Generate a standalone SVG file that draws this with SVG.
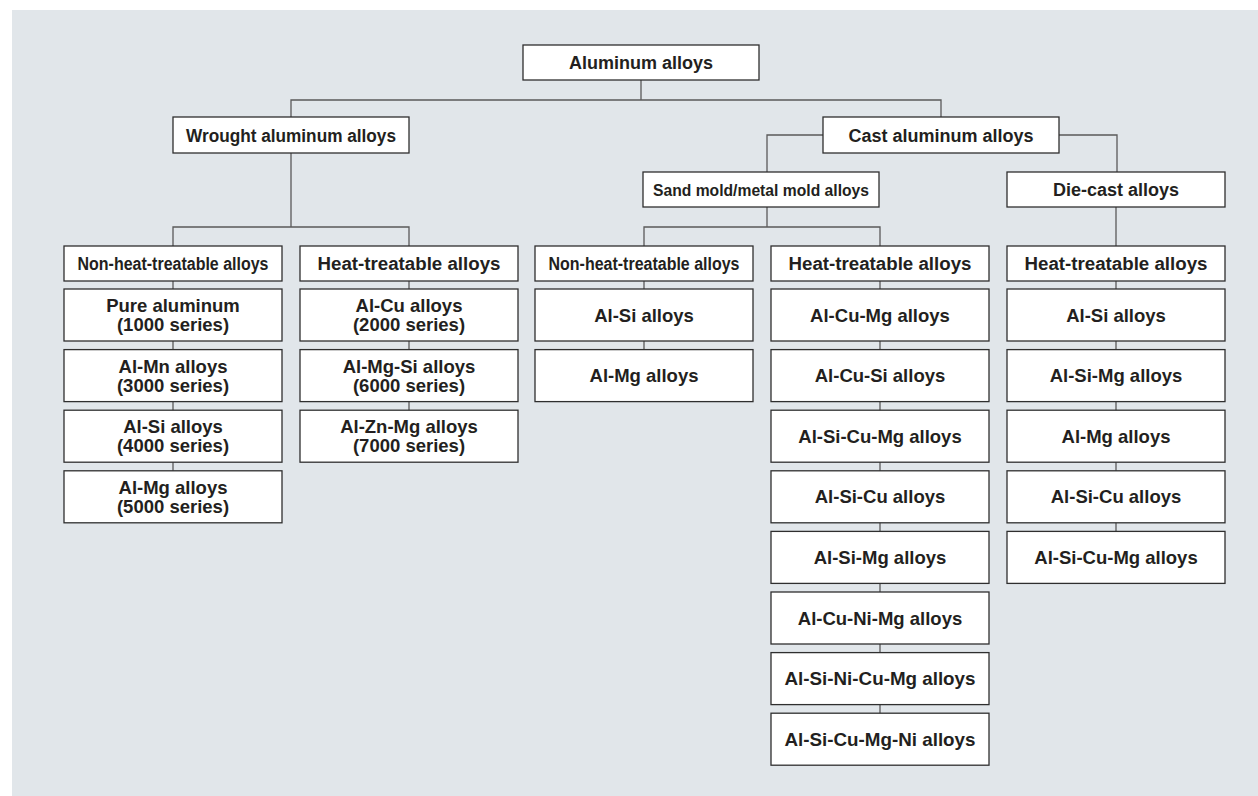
<svg xmlns="http://www.w3.org/2000/svg" width="1258" height="796" viewBox="0 0 1258 796">
  <style>
    .panel { fill: #e1e6ea; }
    .box { fill: #ffffff; stroke: #2f2f2f; stroke-width: 1.3; }
    .wire { fill: none; stroke: #5a5a5a; stroke-width: 1.3; }
    .t { font-family: "Liberation Sans", Arial, Helvetica, sans-serif; font-weight: bold; font-size: 18px; fill: #231f20; text-anchor: middle; }
    .item { font-size: 18.5px; }
    .cond { font-size: 17.5px; }
    .small { font-size: 16.5px; }
  </style>

  <rect class="panel" x="12" y="10" width="1246" height="786"/>

  <!-- tree connectors -->
  <g id="connectors">
    <!-- root to the two main families -->
    <path class="wire" d="M641 80 V100 M291 117 V100 H941 V117"/>
    <!-- wrought branch -->
    <path class="wire" d="M291 153 V227 M173 246 V227 H409 V246"/>
    <!-- cast branch -->
    <path class="wire" d="M823 135 H767 V172 M1059 135 H1117 V172"/>
    <path class="wire" d="M767 207 V227 M644 246 V227 H880 V246"/>
    <path class="wire" d="M1116 207 V246"/>
    <!-- column spines -->
    <path class="wire" d="M173 281 V471"/>
    <path class="wire" d="M409 281 V411"/>
    <path class="wire" d="M644 281 V350"/>
    <path class="wire" d="M880 281 V714"/>
    <path class="wire" d="M1116 281 V532"/>
  </g>

  <!-- top levels -->
  <g id="root">
    <rect class="box" x="523" y="45" width="236" height="35"/>
    <text class="t" x="641" y="69">Aluminum alloys</text>
  </g>
  <g id="wrought">
    <rect class="box" x="173" y="117" width="236" height="36"/>
    <text class="t" x="291" y="141.5" textLength="210" lengthAdjust="spacingAndGlyphs">Wrought aluminum alloys</text>
  </g>
  <g id="cast">
    <rect class="box" x="823" y="117" width="236" height="36"/>
    <text class="t" x="941" y="141.5">Cast aluminum alloys</text>
  </g>
  <g id="sand-mold">
    <rect class="box" x="643" y="172" width="236" height="35"/>
    <text class="t small" x="761" y="195.5" textLength="216" lengthAdjust="spacingAndGlyphs">Sand mold/metal mold alloys</text>
  </g>
  <g id="die-cast">
    <rect class="box" x="1007" y="172" width="218" height="35"/>
    <text class="t" x="1116" y="196">Die-cast alloys</text>
  </g>

  <!-- category headers -->
  <g id="wrought-non-heat">
    <rect class="box" x="64" y="246" width="218" height="35"/>
    <text class="t cond" x="173" y="269.5" textLength="191" lengthAdjust="spacingAndGlyphs">Non-heat-treatable alloys</text>
  </g>
  <g id="wrought-heat">
    <rect class="box" x="300" y="246" width="218" height="35"/>
    <text class="t" x="409" y="269.5" textLength="183" lengthAdjust="spacingAndGlyphs">Heat-treatable alloys</text>
  </g>
  <g id="cast-non-heat">
    <rect class="box" x="535" y="246" width="218" height="35"/>
    <text class="t cond" x="644" y="269.5" textLength="191" lengthAdjust="spacingAndGlyphs">Non-heat-treatable alloys</text>
  </g>
  <g id="cast-heat">
    <rect class="box" x="771" y="246" width="218" height="35"/>
    <text class="t" x="880" y="269.5" textLength="183" lengthAdjust="spacingAndGlyphs">Heat-treatable alloys</text>
  </g>
  <g id="die-heat">
    <rect class="box" x="1007" y="246" width="218" height="35"/>
    <text class="t" x="1116" y="269.5" textLength="183" lengthAdjust="spacingAndGlyphs">Heat-treatable alloys</text>
  </g>

  <!-- wrought, non-heat-treatable -->
  <g id="w-1000">
    <rect class="box" x="64" y="289" width="218" height="52"/>
    <text class="t item" x="173" y="312">Pure aluminum</text>
    <text class="t item" x="173" y="331">(1000 series)</text>
  </g>
  <g id="w-3000">
    <rect class="box" x="64" y="349.6" width="218" height="52"/>
    <text class="t item" x="173" y="372.6">Al-Mn alloys</text>
    <text class="t item" x="173" y="391.6">(3000 series)</text>
  </g>
  <g id="w-4000">
    <rect class="box" x="64" y="410.2" width="218" height="52"/>
    <text class="t item" x="173" y="433.2">Al-Si alloys</text>
    <text class="t item" x="173" y="452.2">(4000 series)</text>
  </g>
  <g id="w-5000">
    <rect class="box" x="64" y="470.8" width="218" height="52"/>
    <text class="t item" x="173" y="493.8">Al-Mg alloys</text>
    <text class="t item" x="173" y="512.8">(5000 series)</text>
  </g>

  <!-- wrought, heat-treatable -->
  <g id="w-2000">
    <rect class="box" x="300" y="289" width="218" height="52"/>
    <text class="t item" x="409" y="312">Al-Cu alloys</text>
    <text class="t item" x="409" y="331">(2000 series)</text>
  </g>
  <g id="w-6000">
    <rect class="box" x="300" y="349.6" width="218" height="52"/>
    <text class="t item" x="409" y="372.6">Al-Mg-Si alloys</text>
    <text class="t item" x="409" y="391.6">(6000 series)</text>
  </g>
  <g id="w-7000">
    <rect class="box" x="300" y="410.2" width="218" height="52"/>
    <text class="t item" x="409" y="433.2">Al-Zn-Mg alloys</text>
    <text class="t item" x="409" y="452.2">(7000 series)</text>
  </g>

  <!-- sand/metal mold, non-heat-treatable -->
  <g id="s-al-si">
    <rect class="box" x="535" y="289" width="218" height="52"/>
    <text class="t item" x="644" y="321.5">Al-Si alloys</text>
  </g>
  <g id="s-al-mg">
    <rect class="box" x="535" y="349.6" width="218" height="52"/>
    <text class="t item" x="644" y="382.1">Al-Mg alloys</text>
  </g>

  <!-- sand/metal mold, heat-treatable -->
  <g id="s-al-cu-mg">
    <rect class="box" x="771" y="289" width="218" height="52"/>
    <text class="t item" x="880" y="321.5">Al-Cu-Mg alloys</text>
  </g>
  <g id="s-al-cu-si">
    <rect class="box" x="771" y="349.6" width="218" height="52"/>
    <text class="t item" x="880" y="382.1">Al-Cu-Si alloys</text>
  </g>
  <g id="s-al-si-cu-mg">
    <rect class="box" x="771" y="410.2" width="218" height="52"/>
    <text class="t item" x="880" y="442.7">Al-Si-Cu-Mg alloys</text>
  </g>
  <g id="s-al-si-cu">
    <rect class="box" x="771" y="470.8" width="218" height="52"/>
    <text class="t item" x="880" y="503.3">Al-Si-Cu alloys</text>
  </g>
  <g id="s-al-si-mg">
    <rect class="box" x="771" y="531.4" width="218" height="52"/>
    <text class="t item" x="880" y="563.9">Al-Si-Mg alloys</text>
  </g>
  <g id="s-al-cu-ni-mg">
    <rect class="box" x="771" y="592" width="218" height="52"/>
    <text class="t item" x="880" y="624.5">Al-Cu-Ni-Mg alloys</text>
  </g>
  <g id="s-al-si-ni-cu-mg">
    <rect class="box" x="771" y="652.6" width="218" height="52"/>
    <text class="t item" x="880" y="685.1" textLength="191" lengthAdjust="spacingAndGlyphs">Al-Si-Ni-Cu-Mg alloys</text>
  </g>
  <g id="s-al-si-cu-mg-ni">
    <rect class="box" x="771" y="713.2" width="218" height="52"/>
    <text class="t item" x="880" y="745.7" textLength="191" lengthAdjust="spacingAndGlyphs">Al-Si-Cu-Mg-Ni alloys</text>
  </g>

  <!-- die-cast, heat-treatable -->
  <g id="d-al-si">
    <rect class="box" x="1007" y="289" width="218" height="52"/>
    <text class="t item" x="1116" y="321.5">Al-Si alloys</text>
  </g>
  <g id="d-al-si-mg">
    <rect class="box" x="1007" y="349.6" width="218" height="52"/>
    <text class="t item" x="1116" y="382.1">Al-Si-Mg alloys</text>
  </g>
  <g id="d-al-mg">
    <rect class="box" x="1007" y="410.2" width="218" height="52"/>
    <text class="t item" x="1116" y="442.7">Al-Mg alloys</text>
  </g>
  <g id="d-al-si-cu">
    <rect class="box" x="1007" y="470.8" width="218" height="52"/>
    <text class="t item" x="1116" y="503.3">Al-Si-Cu alloys</text>
  </g>
  <g id="d-al-si-cu-mg">
    <rect class="box" x="1007" y="531.4" width="218" height="52"/>
    <text class="t item" x="1116" y="563.9">Al-Si-Cu-Mg alloys</text>
  </g>
</svg>
